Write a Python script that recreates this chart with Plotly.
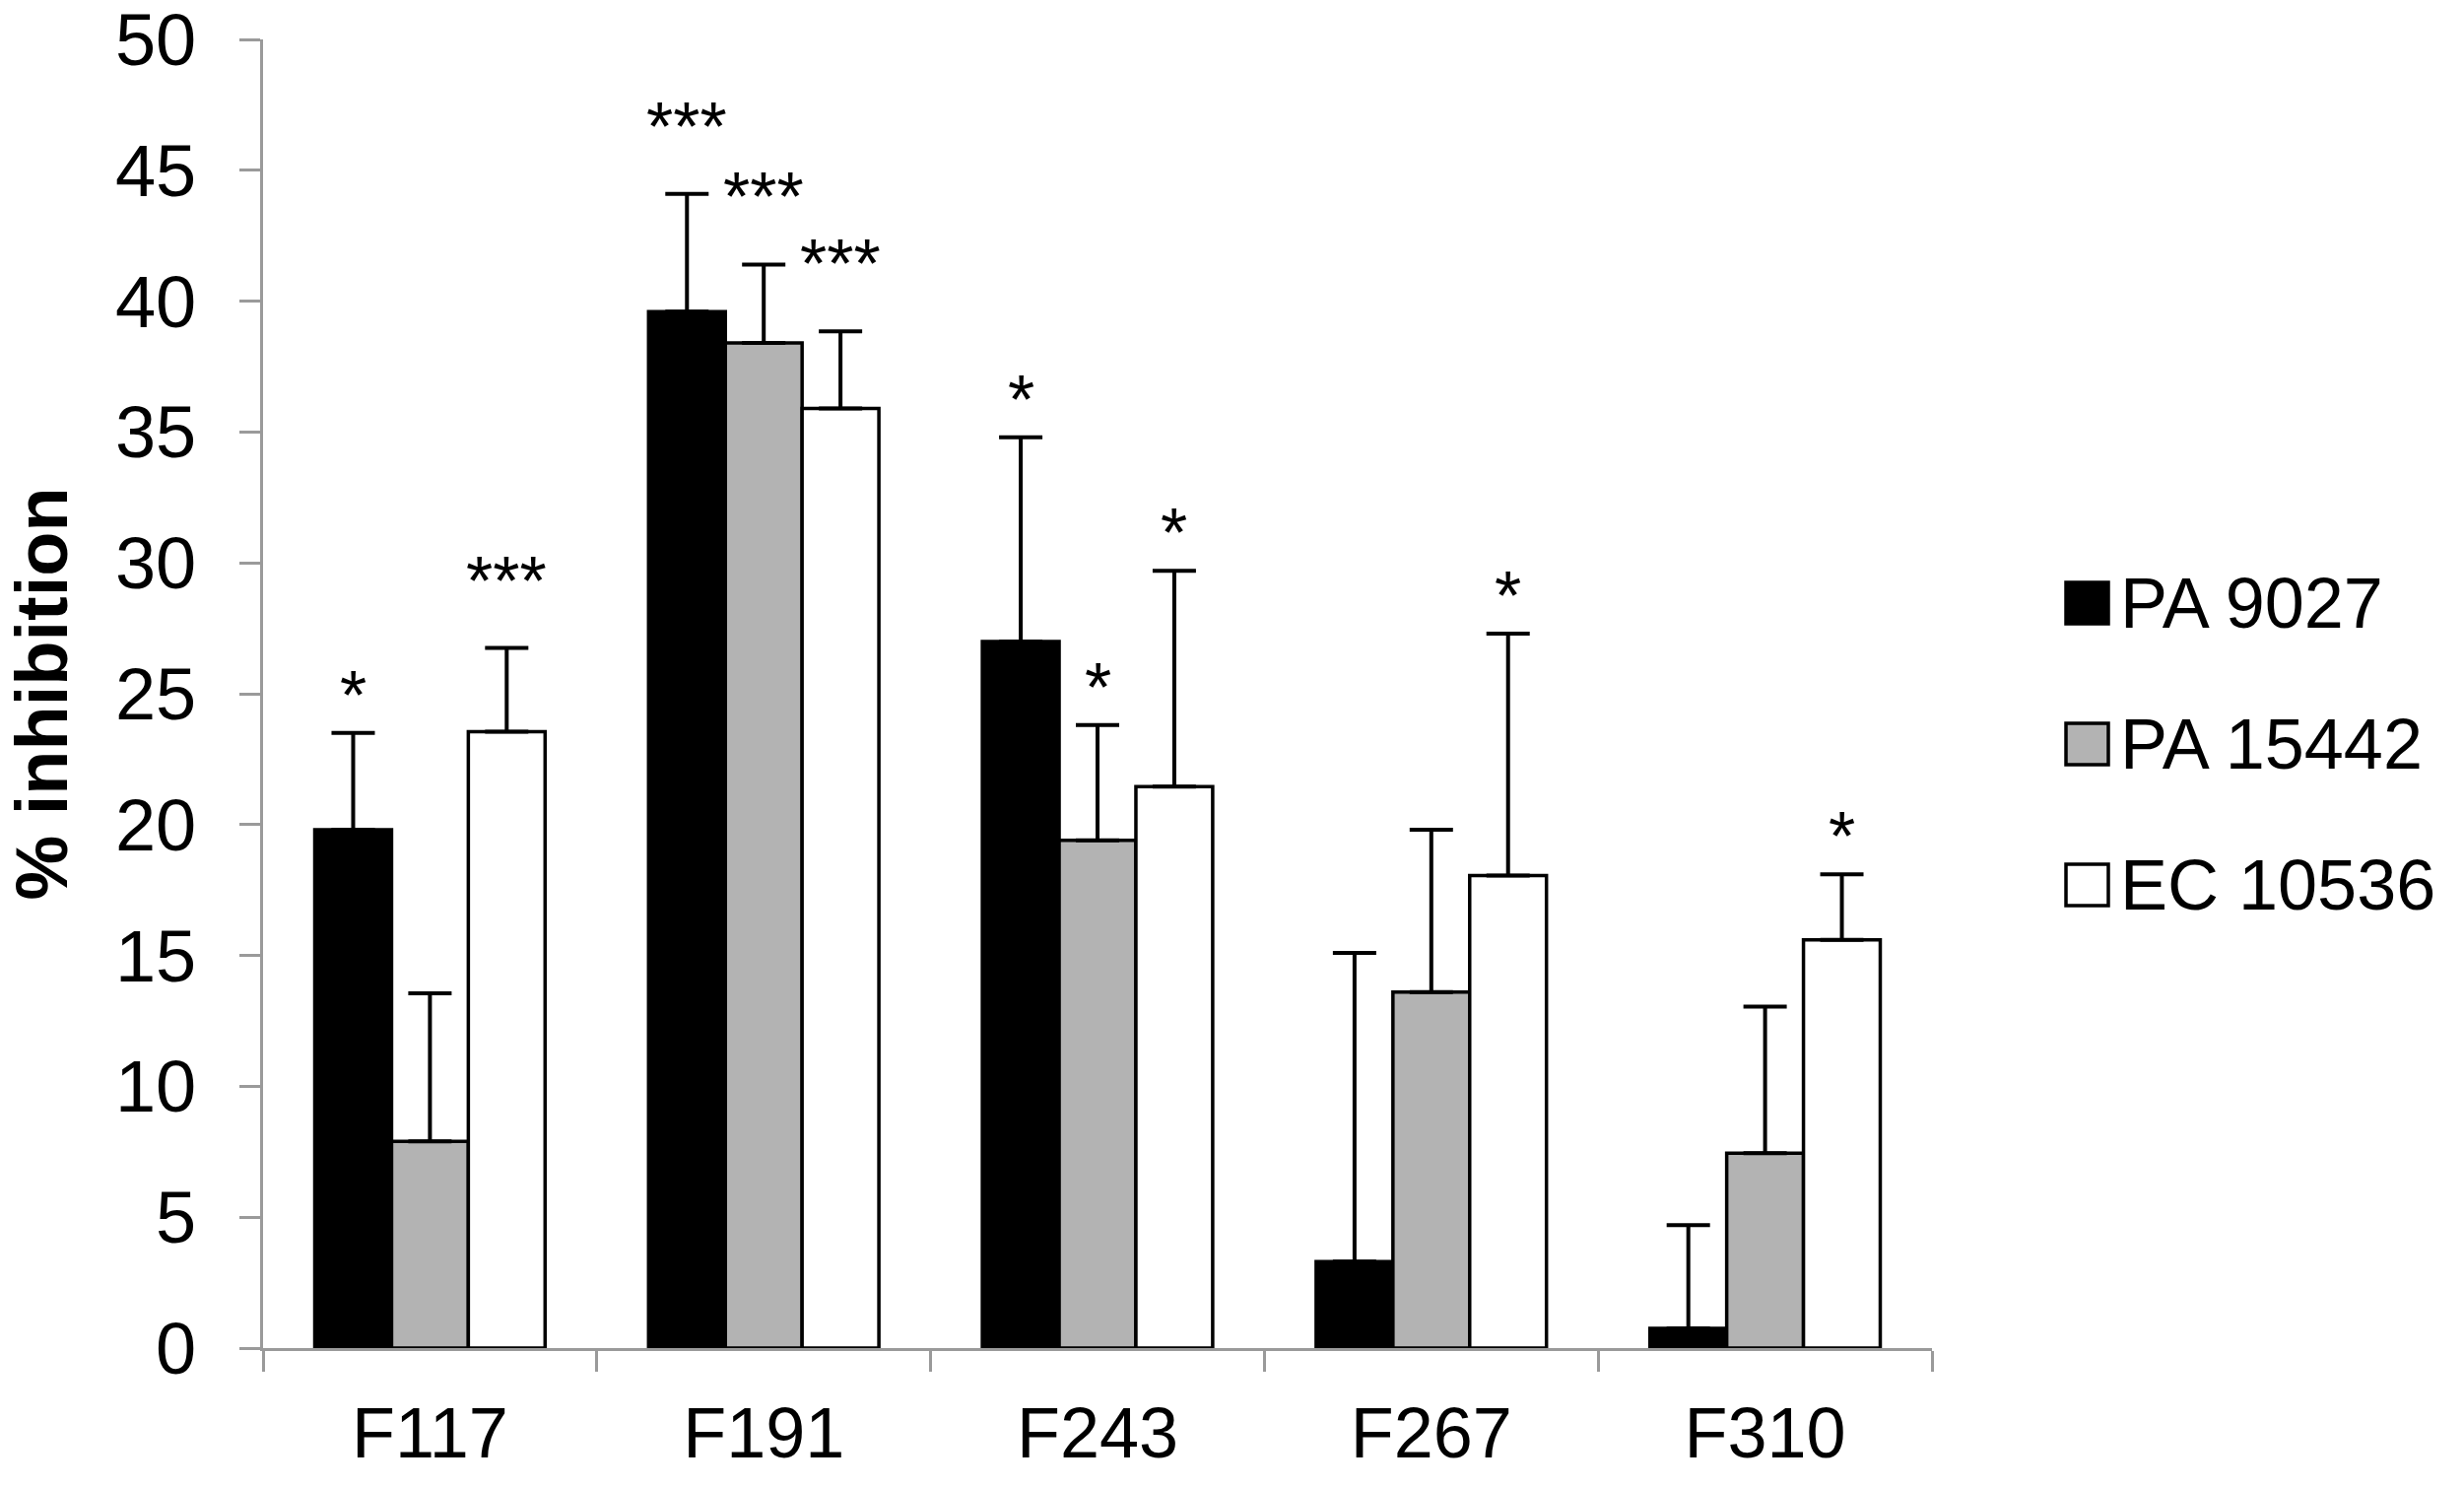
import plotly.graph_objects as go

categories = ["F117", "F191", "F243", "F267", "F310"]
series_names = ["PA 9027", "PA 15442", "EC 10536"]
pa9027 = [19.8, 39.6, 27.0, 3.3, 0.75]
pa9027_err = [3.7, 4.5, 7.8, 11.8, 3.95]
pa15442 = [7.9, 38.4, 19.4, 13.6, 7.45]
pa15442_err = [5.65, 3.0, 4.4, 6.2, 5.6]
ec10536 = [23.55, 35.9, 21.45, 18.05, 15.6]
ec10536_err = [3.2, 2.95, 8.25, 9.25, 2.5]
sig_pa9027 = ["*", "***", "*", "", ""]
sig_pa15442 = ["", "***", "*", "", ""]
sig_ec10536 = ["***", "***", "*", "*", "*"]

values = [pa9027, pa15442, ec10536]
errors = [pa9027_err, pa15442_err, ec10536_err]
sigs = [sig_pa9027, sig_pa15442, sig_ec10536]
fills = ["#000000", "#b3b3b3", "#ffffff"]

W, H = 2501, 1510
L, R, T, B = 267, 540, 40, 142
PW = W - L - R
PH = H - T - B
BARGAP = 0.31
FONT = "Liberation Sans, Arial, Helvetica, sans-serif"
AXIS_GRAY = "#9a9a9a"


def px_x(px):
    return (px - L) / PW


def px_y(py):
    return (H - B - py) / PH


fig = go.Figure()
for name, vals, errs, fill in zip(series_names, values, errors, fills):
    fig.add_trace(go.Bar(
        name=name, x=categories, y=vals,
        marker=dict(color=fill, line=dict(color="#000000", width=3.5)),
        error_y=dict(type="data", array=errs, arrayminus=[0] * len(errs),
                     symmetric=False, color="#000000", thickness=4, width=22),
        showlegend=False,
    ))

# significance stars
bar_px = PW / len(categories) * (1 - BARGAP) / len(series_names)
for i, (vals, errs, sig) in enumerate(zip(values, errors, sigs)):
    for cat, v, e, s in zip(categories, vals, errs, sig):
        if not s:
            continue
        fig.add_annotation(
            x=cat, y=v + e, xref="x", yref="y", text=s, showarrow=False,
            xanchor="center", yanchor="middle",
            xshift=(i - 1) * bar_px,
            yshift=68 if s == "***" else 38,
            font=dict(family=FONT, size=70, color="#000000"),
        )

# legend drawn manually (large square keys)
leg_centers = [612, 755, 898]
for name, fill, cy in zip(series_names, fills, leg_centers):
    fig.add_shape(type="rect", xref="paper", yref="paper",
                  x0=px_x(2097), x1=px_x(2140), y0=px_y(cy + 21), y1=px_y(cy - 21),
                  fillcolor=fill, line=dict(color="#000000", width=3.5))
    fig.add_annotation(x=px_x(2150), y=px_y(cy), xref="paper", yref="paper",
                       text=name, showarrow=False, xanchor="left", yanchor="middle",
                       font=dict(family=FONT, size=72, color="#000000"))

fig.update_layout(
    template="none",
    width=W, height=H,
    margin=dict(l=L, r=R, t=T, b=B, pad=0, autoexpand=False),
    paper_bgcolor="#ffffff", plot_bgcolor="#ffffff",
    barmode="group", bargap=BARGAP, bargroupgap=0,
    font=dict(family=FONT, size=72, color="#000000"),
    showlegend=False,
)
fig.update_xaxes(
    automargin=False,
    range=[-0.5, 4.5], showgrid=False, zeroline=False,
    showline=True, linecolor=AXIS_GRAY, linewidth=3,
    ticks="outside", tickson="boundaries", ticklen=21, tickwidth=3, tickcolor=AXIS_GRAY,
    tickfont=dict(family=FONT, size=72, color="#000000"),
    ticklabelstandoff=22, ticklabeloverflow="allow",
)
fig.update_yaxes(
    automargin=False,
    range=[0, 50], dtick=5, tick0=0, showgrid=False, zeroline=False,
    showline=True, linecolor=AXIS_GRAY, linewidth=3,
    ticks="outside", ticklen=21, tickwidth=3, tickcolor=AXIS_GRAY,
    tickfont=dict(family=FONT, size=74, color="#000000"),
    ticklabelstandoff=29, ticklabeloverflow="allow",
    title=dict(text="<b>% inhibition</b>", standoff=24,
               font=dict(family=FONT, size=74, color="#000000")),
)

fig.write_html(
    "out.html",
    config={"displayModeBar": False},
    post_script="document.body.style.margin='0';",
)
